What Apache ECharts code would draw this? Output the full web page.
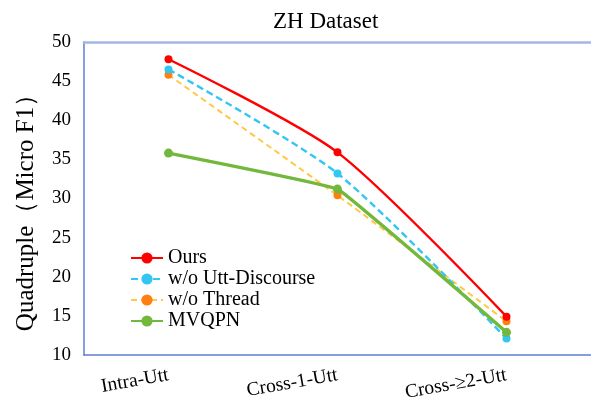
<!DOCTYPE html>
<html>
<head>
<meta charset="utf-8">
<script src="https://cdn.jsdelivr.net/npm/echarts@6/dist/echarts.min.js"></script>
<style>html,body{margin:0;padding:0;background:#fff}#c{width:591px;height:408px}</style>
</head>
<body>
<div id="c"></div>
<script>
const categories = ['Intra-Utt', 'Cross-1-Utt', 'Cross-\u22652-Utt'];
const ours = [47.8, 35.9, 14.9];
const woUttDiscourse = [46.5, 33.2, 12.1];
const woThread = [45.8, 30.4, 14.3];
const mvqpn = [35.8, 31.2, 12.9];
const yTicks = [10, 15, 20, 25, 30, 35, 40, 45, 50];

const font = 'Liberation Serif';
const chart = echarts.init(document.getElementById('c'));
chart.setOption({
  animation: false,
  backgroundColor: '#fff',
  title: {
    text: 'ZH Dataset', left: 268, top: 5,
    textStyle: {fontFamily: font, fontSize: 23, fontWeight: 'normal', color: '#000'}
  },
  grid: {left: 84, right: -3, top: 42, bottom: 53},
  legend: {
    orient: 'vertical', left: 125, top: 243, itemGap: 1, itemWidth: 32, itemHeight: 14,
    textStyle: {fontFamily: font, fontSize: 20, color: '#000'},
    data: ['Ours', 'w/o Utt-Discourse', 'w/o Thread', 'MVQPN']
  },
  xAxis: [{
    type: 'category', data: categories, boundaryGap: true,
    axisLine: {lineStyle: {color: '#5b7fd0', width: 1.5}},
    axisTick: {show: false},
    axisLabel: {fontFamily: font, fontSize: 19.5, color: '#000', rotate: 10, margin: 20, interval: 0}
  }, {
    type: 'category', data: categories, position: 'top',
    axisLine: {lineStyle: {color: '#a3b6e6', width: 2.5}},
    axisTick: {show: false}, axisLabel: {show: false}
  }],
  yAxis: {
    type: 'value', min: yTicks[0], max: yTicks[yTicks.length - 1], interval: 5,
    name: 'Quadruple\uff08Micro F1\uff09', nameLocation: 'middle', nameGap: 45, nameRotate: 90,
    nameTextStyle: {fontFamily: font, fontSize: 25, color: '#000', padding: [0, 16, 0, 0]},
    axisLine: {show: true, lineStyle: {color: '#5b7fd0', width: 1.5}},
    axisTick: {show: false},
    splitLine: {show: false},
    axisLabel: {fontFamily: font, fontSize: 19, color: '#000', margin: 13}
  },
  series: [
    {name: 'Ours', type: 'line', data: ours, smooth: 0.25, symbol: 'circle', symbolSize: 8,
      itemStyle: {color: '#ff0000'}, lineStyle: {color: '#ff0000', width: 2.4}, z: 5},
    {name: 'w/o Utt-Discourse', type: 'line', data: woUttDiscourse, smooth: 0.25, symbol: 'circle', symbolSize: 8,
      itemStyle: {color: '#33c6f2'}, lineStyle: {color: '#33c6f2', width: 2.4, type: [7, 4]}, z: 3},
    {name: 'w/o Thread', type: 'line', data: woThread, smooth: 0.1, symbol: 'circle', symbolSize: 8,
      itemStyle: {color: '#ff7f10'}, lineStyle: {color: '#ffc845', width: 2, type: [6, 4]}, z: 2},
    {name: 'MVQPN', type: 'line', data: mvqpn, smooth: 0.05, symbol: 'circle', symbolSize: 9,
      itemStyle: {color: '#72b83c'}, lineStyle: {color: '#72b83c', width: 3.4}, z: 4}
  ]
});
</script>
</body>
</html>
